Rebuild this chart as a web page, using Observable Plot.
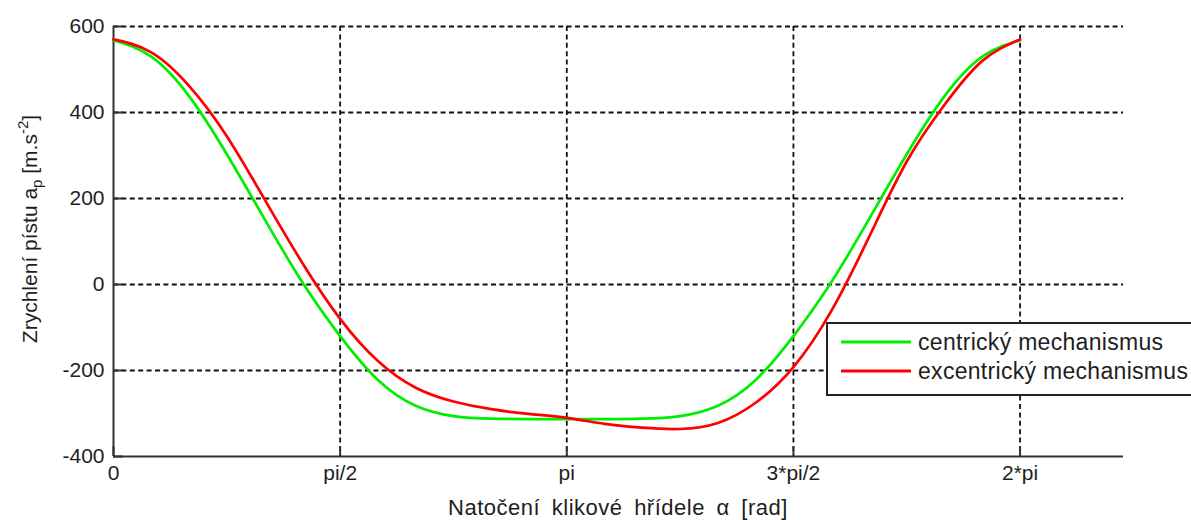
<!DOCTYPE html>
<html><head><meta charset="utf-8">
<script src="https://cdn.jsdelivr.net/npm/d3@7"></script>
<script src="https://cdn.jsdelivr.net/npm/@observablehq/plot@0.6"></script>
<style>
html,body{margin:0;padding:0;background:#fff;}
#chart svg{display:block;}
</style></head><body><div id="chart"></div>
<script>
// crank angle samples (degrees)
const angleDeg = [0,15,30,45,60,75,90,105,120,135,150,165,180,195,210,225,240,255,270,285,300,315,330,345,360];
// piston acceleration [m.s^-2]
const centric   = [568,530,438,303,152,5,-120,-222,-282,-306,-312,-313,-313,-313,-312,-306,-282,-222,-120,5,152,303,438,530,568];
const excentric = [570,540,462,345,198,50,-80,-178,-240,-272,-290,-301,-310,-324,-333,-336,-322,-275,-192,-62,110,286,418,520,570];
const seriesNames = ["centrický mechanismus","excentrický mechanismus"];
const seriesColors = ["#00ee00","#ff0000"];
const xTickValues = [0, Math.PI/2, Math.PI, 3*Math.PI/2, 2*Math.PI];
const xTickLabels = ["0","pi/2","pi","3*pi/2","2*pi"];
const yTickValues = [-400,-200,0,200,400,600];
const xLabel = "Natočení klikové hřídele α [rad]";

const rows = [];
[centric, excentric].forEach((vals, i) => {
  angleDeg.forEach((d, j) => rows.push({alpha: d*Math.PI/180, a: vals[j], series: seriesNames[i]}));
});

const fontFamily = "'Liberation Sans', Arial, Helvetica, sans-serif";
const ink = "#1e1e1e";
const dash = "5,3.4";

const chart = Plot.plot({
  width: 1191, height: 520,
  marginLeft: 113, marginRight: 68, marginTop: 26, marginBottom: 64,
  style: {fontFamily, fontSize: "21px", color: ink, background: "#fff"},
  x: {domain: [0, 7]},
  y: {domain: [-400, 600]},
  color: {domain: seriesNames, range: seriesColors},
  marks: [
    Plot.ruleX(xTickValues.slice(1), {stroke: "#111", strokeWidth: 1.8, strokeDasharray: dash}),
    Plot.ruleY(yTickValues.slice(1), {stroke: "#111", strokeWidth: 1.8, strokeDasharray: dash}),
    Plot.ruleX(xTickValues, {y1: -400, y2: -400, insetTop: -10, stroke: "#333", strokeWidth: 2}),
    Plot.ruleY(yTickValues, {x1: 0, x2: 0, insetRight: -10, stroke: "#333", strokeWidth: 2}),
    Plot.ruleX([0], {stroke: "#333", strokeWidth: 2}),
    Plot.ruleY([-400], {stroke: "#333", strokeWidth: 2}),
    Plot.line(rows, {x: "alpha", y: "a", z: "series", stroke: "series", strokeWidth: 2.7, curve: "natural"}),
    Plot.axisX(xTickValues, {tickSize: 0, tickPadding: 9, tickFormat: (d, i) => xTickLabels[i], label: null, fontSize: 21}),
    Plot.axisY(yTickValues, {tickSize: 0, tickPadding: 9, tickFormat: d => String(d), label: null, fontSize: 21})
  ]
});
document.getElementById("chart").appendChild(chart);

const sx = chart.scale("x"), sy = chart.scale("y");
const svg = d3.select(chart);
const x0 = sx.apply(0), x7 = sx.apply(7);
const yTop = sy.apply(600), yBot = sy.apply(-400);

// x axis label
svg.append("text")
  .attr("x", (x0 + x7) / 2).attr("y", yBot + 59)
  .attr("text-anchor", "middle").style("word-spacing", "5px").style("letter-spacing", "0.5px")
  .attr("font-family", fontFamily).attr("font-size", 22).attr("fill", ink)
  .text(xLabel);

// y axis label with subscript / superscript
const yl = svg.append("text")
  .attr("transform", `translate(37,${(yTop + yBot) / 2 - 12}) rotate(-90)`)
  .attr("text-anchor", "middle")
  .attr("font-family", fontFamily).attr("font-size", 21).attr("fill", ink);
yl.append("tspan").text("Zrychlení pístu a");
yl.append("tspan").attr("font-size", 15).attr("dy", 5).text("p");
yl.append("tspan").attr("dy", -5).text(" [m.s");
yl.append("tspan").attr("font-size", 15).attr("dy", -9).text("-2");
yl.append("tspan").attr("dy", 9).text("]");

// legend (MATLAB-style box, partly beyond the right edge)
const lg = svg.append("g");
const lx = 827, ly = 323;
lg.append("rect").attr("x", lx).attr("y", ly).attr("width", 420).attr("height", 72)
  .attr("fill", "#fff").attr("stroke", "#222").attr("stroke-width", 2);
seriesNames.forEach((name, i) => {
  const yy = ly + 19 + i * 29;
  lg.append("line").attr("x1", lx + 14).attr("x2", lx + 84).attr("y1", yy).attr("y2", yy)
    .attr("stroke", seriesColors[i]).attr("stroke-width", 3);
  lg.append("text").attr("x", lx + 91).attr("y", yy).attr("dy", "0.35em")
    .attr("text-anchor", "start").style("letter-spacing", "0.3px")
    .attr("font-family", fontFamily).attr("font-size", 23).attr("fill", ink)
    .text(name);
});
</script>
</body></html>
